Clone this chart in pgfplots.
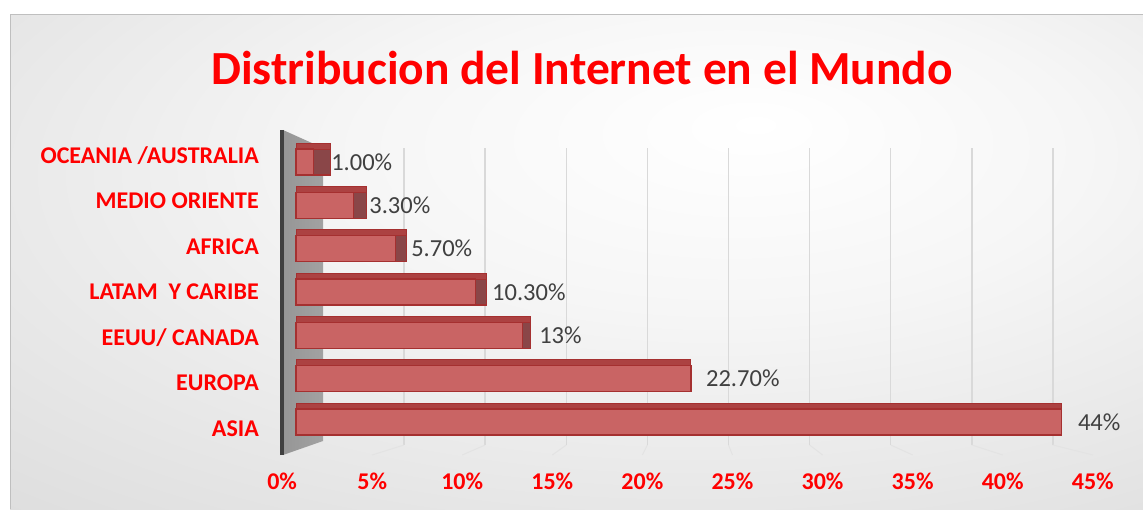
\documentclass[border=0pt]{standalone}
\usepackage{pgfplots}
\pgfplotsset{compat=1.18}
\usepackage{pgfplotstable}
\usepackage{fontspec}
\setmainfont{Carlito}
\definecolor{tred}{RGB}{255,0,0}
\definecolor{barfront}{RGB}{201,100,100}
\definecolor{baredge}{RGB}{165,48,48}
\definecolor{bartop}{RGB}{172,66,66}
\definecolor{barcap}{RGB}{138,70,72}
\definecolor{lblgray}{RGB}{64,64,64}
\definecolor{bgA}{RGB}{255,255,255}
\definecolor{bgB}{RGB}{246,246,246}
\definecolor{bgC}{RGB}{220,220,220}
\definecolor{bgD}{RGB}{192,192,192}
\definecolor{wallL}{RGB}{150,150,150}
\definecolor{wallR}{RGB}{162,162,162}
\pgfdeclareradialshading{bgshade}{\pgfpoint{8bp}{14bp}}{color(0bp)=(bgA); color(16bp)=(bgB); color(45bp)=(bgC); color(78bp)=(bgD)}

\pgfplotstableread{
y val cap lx lbl
0 44 0 44.94 44\%
1 22.7 0 23.56 22.70\%
2 13 0.46 13.97 13\%
3 10.3 0.63 11.26 10.30\%
4 5.7 0.63 6.61 5.70\%
5 3.3 0.75 4.20 3.30\%
6 1.0 0.98 2.01 1.00\%
}\datatable

\begin{document}
\begin{tikzpicture}[x=1pt,y=1pt]
\useasboundingbox (0,0) rectangle (1143,509);
\shade[shading=bgshade] (10,0) rectangle (1143,494);
\draw[black!25, line width=1pt] (10,0) -- (10,494) -- (1143,494);
% left wall
\shade[left color=wallL, right color=wallR] (283,379) -- (323,361) -- (323,68) -- (283,54) -- cycle;
% back gridlines and floor lines
\foreach \k in {1,...,9} {
  \draw[black!15, line width=1.5pt] ({323+81.1*\k},64) -- ({323+81.1*\k},361);
  \draw[black!11, line width=1pt] ({282+90.1*\k},54) -- ({323+81.1*\k},64);
}
\node[anchor=base, text=tred, font=\fontsize{47.5}{57}\selectfont\bfseries] at (582,424) {Distribucion del Internet en el Mundo};
\begin{axis}[
  at={(282pt,54pt)}, anchor=south west,
  scale only axis, width=811pt, height=325pt,
  xmin=-0.81, xmax=45.81, ymin=-0.76, ymax=6.74,
  axis line style={draw=none},
  major tick length=0pt,
  tick style={draw=none},
  xtick={-0.805,4.373,9.551,14.729,19.907,25.085,30.263,35.441,40.619,45.797},
  xticklabels={0\%,5\%,10\%,15\%,20\%,25\%,30\%,35\%,40\%,45\%},
  xticklabel style={text=tred, font=\fontsize{24}{28}\selectfont\bfseries, inner sep=0pt, anchor=north},
  xticklabel shift=18pt,
  ytick={-0.16,0.9,1.94,3.0,4.04,5.1,6.14},
  yticklabels={ASIA\ ,EUROPA,EEUU/ CANADA,LATAM\ \ Y CARIBE,AFRICA\ ,MEDIO ORIENTE,OCEANIA /AUSTRALIA},
  yticklabel style={text=tred, font=\fontsize{24}{28}\selectfont\bfseries, inner sep=0pt, anchor=east},
  yticklabel shift=23pt,
  clip=false,
]
\addplot[xbar, bar width=26pt, bar shift=0pt, fill=barcap, draw=baredge, line width=1.2pt]
  table[y=y, x expr=\thisrow{val}+\thisrow{cap}] {\datatable};
\addplot[xbar, bar width=6pt, bar shift=16pt, fill=bartop, draw=baredge, line width=1pt]
  table[y=y, x expr=\thisrow{val}+\thisrow{cap}] {\datatable};
\addplot[xbar, bar width=26pt, bar shift=0pt, fill=barfront, draw=baredge, line width=1.2pt]
  table[y=y, x=val] {\datatable};
\addplot[draw=none, mark=none, point meta=explicit symbolic, nodes near coords,
  nodes near coords align=horizontal,
  every node near coord/.append style={anchor=west, inner sep=0pt, text=lblgray, font=\fontsize{24.5}{28}\selectfont}]
  table[x=lx, y=y, meta=lbl] {\datatable};
\end{axis}
\draw[line width=4pt, black!75] (282,54) -- (282,379);
\end{tikzpicture}
\end{document}
